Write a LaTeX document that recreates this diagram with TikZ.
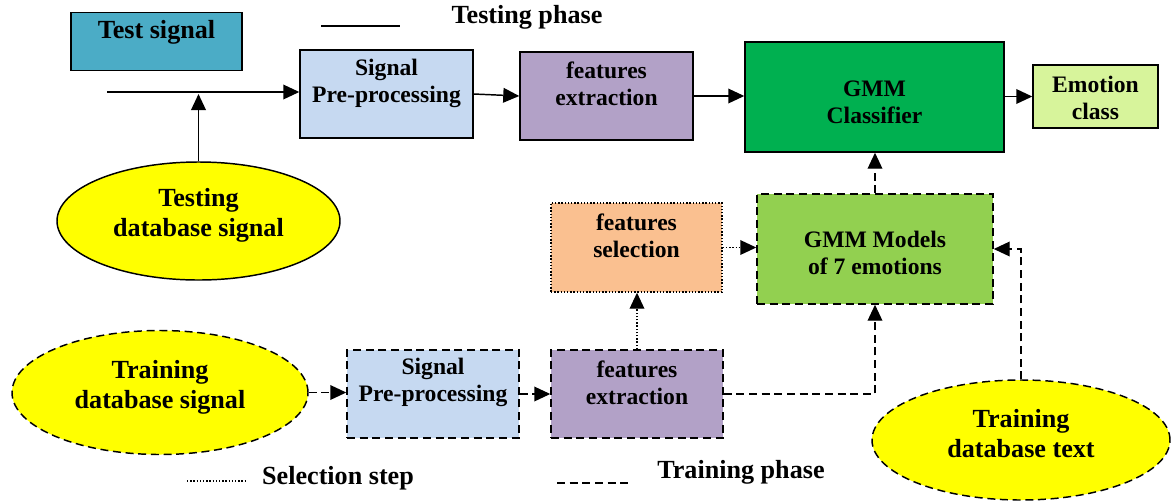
\documentclass[tikz,border=0pt]{standalone}
\usepackage{fontspec}
\setmainfont{Liberation Serif}
\usetikzlibrary{shapes.geometric,arrows.meta}
\definecolor{cTeal}{HTML}{4BACC6}
\definecolor{cBlue}{HTML}{C6D9F1}
\definecolor{cPurple}{HTML}{B2A1C7}
\definecolor{cGreen}{HTML}{00B050}
\definecolor{cLime}{HTML}{D7F49B}
\definecolor{cMid}{HTML}{92D050}
\definecolor{cPeach}{HTML}{FAC090}
\definecolor{cYellow}{HTML}{FFFF00}
\begin{document}
\begin{tikzpicture}[x=0.75pt,y=-0.75pt,
  sz/.style 2 args={minimum width=#1*0.75pt, minimum height=#2*0.75pt},
  box/.style={draw, line width=1.1pt, inner sep=0pt, rectangle},
  oval/.style={draw, line width=1.1pt, inner sep=0pt, ellipse, fill=cYellow},
  dsh/.style={dash pattern=on 6pt off 3.5pt},
  dot/.style={dash pattern=on 1.1pt off 1.3pt},
  small/.style={font=\fontsize{17.7}{20.25}\selectfont\bfseries, align=center, inner sep=0pt},
  big/.style={font=\fontsize{19.6}{22.5}\selectfont\bfseries, align=center, inner sep=0pt},
  conn/.style={line width=1.1pt},
  arr/.style={conn, -{Triangle[length=12pt,width=11pt]}}
]
\useasboundingbox (0,0) rectangle (1172,501);

% boxes
\node[box, fill=cTeal, sz={171}{58}] (ts) at (156.5,41.5) {};
\node[box, fill=cBlue, sz={173}{88}] (sp1) at (386.5,94) {};
\node[box, fill=cPurple, sz={173}{88}] (fe1) at (606.5,96) {};
\node[box, fill=cGreen, sz={259}{110}] (gmm) at (874.5,97) {};
\node[box, fill=cLime, sz={125}{63}] (emo) at (1095.5,96.5) {};
\node[box, dsh, fill=cMid, sz={236}{110}] (models) at (875,249) {};
\node[box, dot, fill=cPeach, sz={171}{89}] (fs) at (636.5,247.5) {};
\node[box, dsh, fill=cBlue, sz={172}{88}] (sp2) at (433,394) {};
\node[box, dsh, fill=cPurple, sz={172}{88}] (fe2) at (637,394) {};

% ellipses
\node[oval, sz={283}{118}] (tdb) at (198.5,221) {};
\node[oval, dsh, sz={296}{124}] (tds) at (160,392.5) {};
\node[oval, dsh, sz={298}{120}] (tdt) at (1021,440) {};

% texts
\node[big] (tst) at (156.5,32) {Test signal};
\node[small] (sp1t) at (386.5,83) {Signal\\Pre-processing};
\node[small] (fe1t) at (606.5,84) {features\\extraction};
\node[small] (gmmt) at (874.5,102) {GMM\\Classifier};
\node[small] (emot) at (1095.5,97.5) {Emotion\\class};
\node[small] (modelst) at (875,253) {GMM Models\\of 7 emotions};
\node[small] (fst) at (636.5,236) {features\\selection};
\node[small] (sp2t) at (433,382.5) {Signal\\Pre-processing};
\node[small] (fe2t) at (637,382.5) {features\\extraction};
\node[big] (tdbt) at (198.5,215) {Testing\\database signal};
\node[big] (tdst) at (160,387) {Training\\database signal};
\node[big] (tdtt) at (1021,433.5) {Training\\database text};

% testing phase connectors
\coordinate (in) at (107,92);
\draw[arr] (in) -- (in -| sp1.west);
\draw[arr, shorten >=1.5pt] (tdb.north) -- (tdb.north |- in);
\draw[arr] (sp1.east) -- (fe1.west);
\draw[arr] (fe1.east) -- (fe1.east -| gmm.west);
\draw[arr] (emo.west -| gmm.east) -- (emo.west);

% training connectors
\draw[arr, dsh] (models.north) -- (models.north |- gmm.south);
\draw[arr, dsh] (tds.east) -- (tds.east -| sp2.west);
\draw[arr, dsh] (sp2.east) -- (fe2.west);
\draw[arr, dsh] (fe2.east) -| (models.south);
\draw[arr, dsh] (tdt.north) |- (models.east);

% selection connectors
\draw[arr, dot] (fe2.north) -- (fe2.north |- fs.south);
\draw[arr, dot] (fs.east) -- (fs.east -| models.west);

% legend
\coordinate (l1a) at (321,26);
\coordinate (l1b) at (400,26);
\draw[conn] (l1a) -- (l1b);
\node[big] (l1t) at (527,17) {Testing phase};
\coordinate (l2a) at (187,481);
\coordinate (l2b) at (246,481);
\draw[conn, dot] (l2a) -- (l2b);
\node[big] (l2t) at (338,478) {Selection step};
\coordinate (l3a) at (557,483);
\coordinate (l3b) at (633,483);
\draw[conn, dsh] (l3a) -- (l3b);
\node[big] (l3t) at (741,472) {Training phase};
\end{tikzpicture}
\end{document}
